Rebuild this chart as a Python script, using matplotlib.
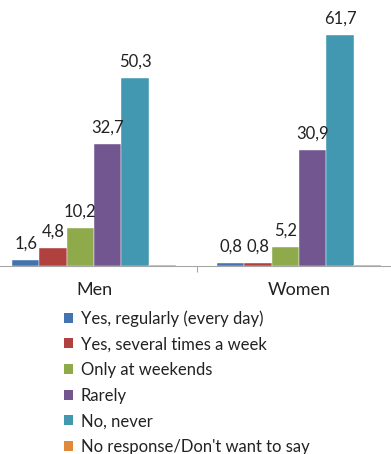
import numpy as np
import matplotlib.pyplot as plt
from matplotlib.patches import Patch

plt.rcParams['font.family'] = ['Lato', 'DejaVu Sans']

groups = ['Men', 'Women']
series = ['Yes, regularly (every day)', 'Yes, several times a week',
          'Only at weekends', 'Rarely', 'No, never',
          "No response/Don't want to say"]
values = {
    'Yes, regularly (every day)': [1.6, 0.8],
    'Yes, several times a week': [4.8, 0.8],
    'Only at weekends': [10.2, 5.2],
    'Rarely': [32.7, 30.9],
    'No, never': [50.3, 61.7],
    "No response/Don't want to say": [0.3, 0.4],
}
labelled = [True, True, True, True, True, False]
colors = ['#4373B0', '#B0413E', '#8EAA4B', '#72568F', '#4198B0', '#E0893B']

fig = plt.figure(figsize=(3.91, 4.54), dpi=100)
ax = fig.add_axes([0, 188 / 454, 1, 266 / 454])

x = np.arange(len(groups))
w = 0.1335
for i, name in enumerate(series):
    pos = x + (i - 2.5) * w
    bars = ax.bar(pos, values[name], width=w, color=colors[i],
                  edgecolor='white', linewidth=0.3)
    if labelled[i]:
        for b, v in zip(bars, values[name]):
            ax.annotate(f'{v:.1f}'.replace('.', ','),
                        (b.get_x() + b.get_width() / 2, v),
                        xytext=(0, 6), textcoords='offset points',
                        ha='center', va='bottom', fontsize=12, color='#222222')

ax.set_xlim(-0.459, 1.449)
ax.set_ylim(0, 71.1)
ax.set_yticks([])
ax.set_xticks([0.5])
ax.set_xticklabels([])
ax.tick_params(axis='x', length=4, color='#A6A6A6', width=0.8)
for s in ['top', 'left', 'right']:
    ax.spines[s].set_visible(False)
ax.spines['bottom'].set_color('#A6A6A6')
ax.spines['bottom'].set_linewidth(0.8)
for xi, g in zip(x, groups):
    ax.text(xi, -6.4, g, ha='center', va='center', fontsize=13, color='#222222')

handles = [Patch(facecolor=c, edgecolor='none') for c in colors]
fig.legend(handles, series, loc='upper left', bbox_to_anchor=(64 / 391, 1 - 310 / 454),
           frameon=False, fontsize=12, handlelength=0.55, handleheight=0.55,
           handletextpad=0.45, labelspacing=0.58, borderpad=0, borderaxespad=0,
           labelcolor='#222222')

fig.savefig('out.png', dpi=100)
